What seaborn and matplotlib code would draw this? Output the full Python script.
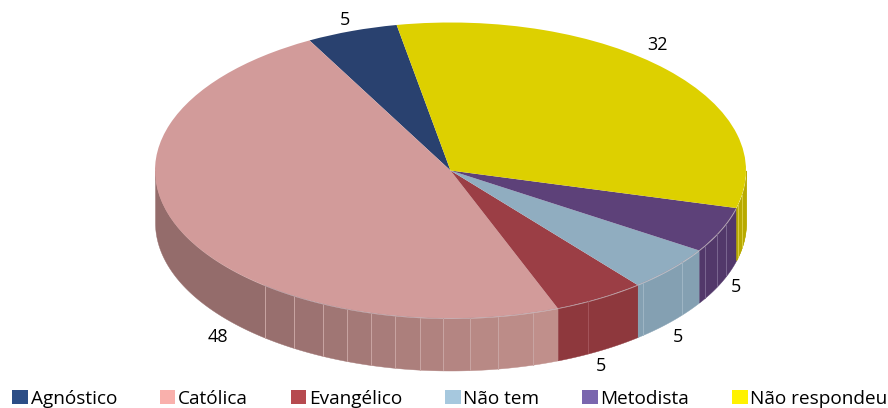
import numpy as np
import seaborn as sns
import matplotlib.pyplot as plt
from matplotlib.patches import Patch

labels = ['Agnóstico', 'Católica', 'Evangélico', 'Não tem', 'Metodista', 'Não respondeu']
values = [5, 48, 5, 5, 5, 32]

top_colors = ['#29416f', '#d29b9a', '#9b3e45', '#90adc0', '#5d4179', '#ddd000']
wall_colors = ['#1f3054', '#946c6b', '#8e383d', '#84a0b2', '#52386a', '#b8aa00']
line_colors = ['#1f3054', '#c9a5a3', '#a4545a', '#9fb6c5', '#7a6690', '#d8cc40']
legend_colors = ['#2c4d86', '#f9b0ac', '#b64a4f', '#a6c8de', '#7a66ae', '#fff200']

# geometry of the tilted pie, in pixels of the 888x408 picture
CX, CY, RX, RY, DEPTH = 450.5, 170.5, 295.5, 148, 52
START = 100.5


def to_x(px):
    return (px - CX) / RX


def to_y(py):
    return (CY - py) / RY


# where the wall facets break, in degrees
facet_breaks = {
    1: [231.1, 238, 244.4, 249.4, 254.3, 259.1, 264, 268.6, 273.7, 279.3, 286.3],
    2: [297.8],
    3: [310.7, 321.6],
    4: [329.5, 334.4, 338.8],
    5: [346.7, 350.5],
}


def draw_wall(ax, a0, a1, color, zorder=1):
    t = np.radians(np.linspace(a0, a1, 60))
    ax.fill_between(np.cos(t), np.sin(t), np.sin(t) - DEPTH / RY,
                    color=color, linewidth=0.3, zorder=zorder)


def draw_line(ax, a, color):
    t = np.radians(a)
    ax.plot([np.cos(t)] * 2, [np.sin(t), np.sin(t) - DEPTH / RY],
            color=color, lw=0.7, zorder=2)


sns.set_theme(style='white')
plt.rcParams['font.family'] = ['Open Sans', 'DejaVu Sans']

fig = plt.figure(figsize=(8.88, 4.08), dpi=100)
ax = fig.add_axes([0, 0, 1, 1])

wedges, _ = ax.pie(values, colors=top_colors, startangle=START, radius=1,
                   wedgeprops={'linewidth': 0, 'zorder': 3})
ax.set_aspect('auto')
ax.set_xlim(to_x(0), to_x(888))
ax.set_ylim(to_y(408), to_y(0))

# side wall, only the front half shows
pink_dark = np.array(sns.color_palette(['#946c6b'])[0])
pink_light = np.array(sns.color_palette(['#c08f8b'])[0])
edges = START + np.cumsum([0] + values) * 3.6
for i in range(len(values)):
    a0 = max(edges[i], 180)
    a1 = min(edges[i + 1], 360)
    if a1 <= a0:
        continue
    cuts = [a0] + facet_breaks.get(i, []) + [a1]
    for j in range(len(cuts) - 1):
        if i == 1:
            mix = j / (len(cuts) - 2)
            col = tuple(pink_dark + (pink_light - pink_dark) * mix)
        else:
            col = wall_colors[i]
        draw_wall(ax, cuts[j], cuts[j + 1], col)
    for a in facet_breaks.get(i, []):
        draw_line(ax, a, line_colors[i])

# yellow goes round the right side too
draw_wall(ax, 345.3, 360, wall_colors[5])
for a in facet_breaks[5]:
    draw_line(ax, a, line_colors[5])

# thin rim between top and wall
t = np.radians(np.linspace(231, 345, 120))
ax.plot(np.cos(t), np.sin(t), color='#a08a94', lw=0.5, alpha=0.6, zorder=4)

# data labels
label_px = [(345, 20), (218, 337), (601, 366), (678, 337), (736, 287), (657, 45)]
for v, (x, y) in zip(values, label_px):
    ax.text(to_x(x), to_y(y), str(v), ha='center', va='center', fontsize=13,
            color='black', zorder=5)

handles = [Patch(facecolor=c, edgecolor='none') for c in legend_colors]
fig.legend(handles, labels, ncol=6, loc='lower left', bbox_to_anchor=(12 / 888, 0),
           frameon=False, fontsize=13.7, labelcolor='black', handlelength=0.82,
           handleheight=0.82, handletextpad=0.14, columnspacing=2.25,
           borderaxespad=0, borderpad=0.02)

fig.savefig('out.png', dpi=100, facecolor='white')
